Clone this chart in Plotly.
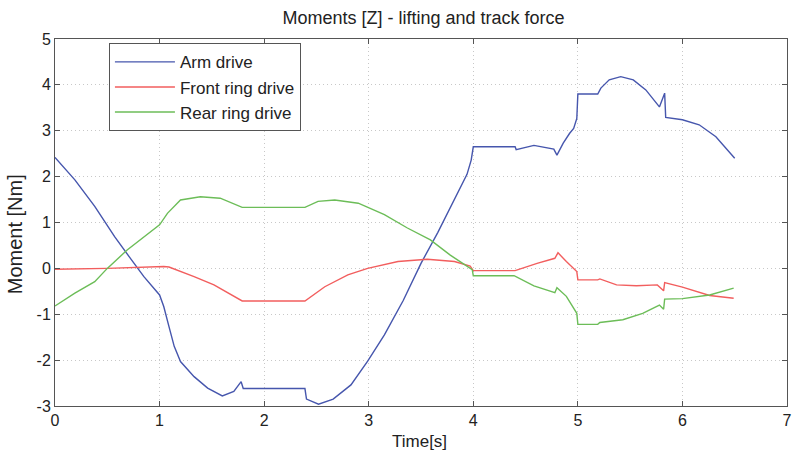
import plotly.graph_objects as go

# Arm drive
arm_t = [0, 0.19, 0.38, 0.57, 0.73, 0.85, 1.0, 1.04, 1.09, 1.14, 1.20, 1.33, 1.46, 1.60, 1.71, 1.78, 1.80,
         2.39, 2.405, 2.52, 2.66, 2.83, 2.99, 3.15, 3.33, 3.50, 3.66, 3.80, 3.94, 3.98, 4.0,
         4.40, 4.41, 4.58, 4.77, 4.80, 4.86, 4.92, 4.96, 4.99, 5.0, 5.19, 5.22, 5.30, 5.41, 5.53, 5.65, 5.78,
         5.83, 5.84, 6.0, 6.16, 6.32, 6.50]
arm_v = [2.42, 1.93, 1.35, 0.69, 0.19, -0.18, -0.58, -0.83, -1.27, -1.70, -2.03, -2.36, -2.61, -2.78, -2.68, -2.47, -2.62,
         -2.62, -2.85, -2.96, -2.85, -2.54, -2.02, -1.45, -0.70, 0.11, 0.78, 1.40, 2.05, 2.36, 2.65,
         2.65, 2.59, 2.68, 2.60, 2.47, 2.73, 2.94, 3.05, 3.27, 3.80, 3.80, 3.93, 4.11, 4.18, 4.11, 3.89, 3.52,
         3.82, 3.29, 3.24, 3.13, 2.87, 2.40]

# Front ring drive
front_t = [0, 0.5, 1.04, 1.09, 1.33, 1.52, 1.79, 2.39, 2.58, 2.80, 2.99, 3.28, 3.56, 3.82, 3.97, 4.0,
           4.40, 4.61, 4.78, 4.81, 4.89, 4.99, 5.0, 5.19, 5.21, 5.37, 5.56, 5.76, 5.82, 5.83, 6.0, 6.26, 6.49]
front_v = [-0.02, 0.0, 0.04, 0.03, -0.18, -0.36, -0.71, -0.71, -0.40, -0.14, 0.0, 0.15, 0.20, 0.15, 0.05, -0.05,
           -0.05, 0.11, 0.22, 0.34, 0.15, -0.07, -0.25, -0.25, -0.23, -0.36, -0.38, -0.36, -0.49, -0.31, -0.41, -0.59, -0.65]

# Rear ring drive
rear_t = [0, 0.19, 0.38, 0.50, 0.69, 0.85, 1.0, 1.075, 1.20, 1.39, 1.58, 1.79, 2.39, 2.515, 2.675, 2.90,
          3.15, 3.37, 3.59, 3.78, 3.99, 4.0, 4.39, 4.58, 4.78, 4.80, 4.89, 4.99, 5.0, 5.19, 5.21, 5.43, 5.62,
          5.78, 5.82, 5.83, 6.0, 6.26, 6.49]
rear_v = [-0.82, -0.54, -0.29, 0.0, 0.40, 0.69, 0.95, 1.20, 1.49, 1.56, 1.53, 1.33, 1.33, 1.46, 1.49, 1.42,
          1.17, 0.88, 0.62, 0.29, -0.03, -0.16, -0.16, -0.38, -0.53, -0.42, -0.61, -0.98, -1.22, -1.22, -1.18, -1.12, -0.98,
          -0.80, -0.89, -0.67, -0.66, -0.58, -0.43]

x_ticks = [0, 1, 2, 3, 4, 5, 6, 7]
x_labels = ["0", "1", "2", "3", "4", "5", "6", "7"]
y_ticks = [-3, -2, -1, 0, 1, 2, 3, 4, 5]
y_labels = ["-3", "-2", "-1", "0", "1", "2", "3", "4", "5"]

series = [
    ("Arm drive", arm_t, arm_v, "#4656ad"),
    ("Front ring drive", front_t, front_v, "#f25e5e"),
    ("Rear ring drive", rear_t, rear_v, "#6cbd58"),
]

FONT = "Liberation Sans, Arial, sans-serif"
TXT = "#222222"

L, R, T, B = 55, 4, 39, 50
W, H = 796, 456
PW, PH = W - L - R, H - T - B

fig = go.Figure()
for i, (name, t, v, c) in enumerate(series):
    fig.add_trace(go.Scatter(x=t, y=v, mode="lines", name=name,
                             line=dict(color=c, width=1.4)))

axis_common = dict(
    showline=True, linecolor="#555555", linewidth=1, mirror="ticks",
    ticks="inside", ticklen=5, tickcolor="#555555",
    showgrid=True, gridcolor="#c8c8c8", griddash="1px,3px", gridwidth=1,
    zeroline=False, ticklabeloverflow="allow",
    tickfont=dict(family=FONT, size=16, color=TXT),
)

fig.update_layout(
    width=W, height=H,
    margin=dict(l=L, r=R, t=T, b=B),
    paper_bgcolor="white", plot_bgcolor="white",
    title=dict(text="Moments [Z] - lifting and track force",
               x=(L + PW / 2) / W, xanchor="center", y=1 - 18 / H, yanchor="middle",
               font=dict(family=FONT, size=18, color=TXT)),
    xaxis=dict(range=[0, 7], tickvals=x_ticks, ticktext=x_labels, **axis_common),
    yaxis=dict(range=[-3, 5], tickvals=y_ticks, ticktext=y_labels, **axis_common),
    annotations=[
        dict(text="Moment [Nm]", textangle=-90, xref="paper", yref="paper",
             x=(15 - L) / PW, y=(H - B - 234) / PH, xanchor="center", yanchor="middle",
             showarrow=False, font=dict(family=FONT, size=20, color=TXT)),
        dict(text="Time[s]", xref="paper", yref="paper",
             x=(422 - L) / PW, y=(H - B - 441) / PH, xanchor="center", yanchor="middle",
             showarrow=False, font=dict(family=FONT, size=17, color=TXT)),
    ],
    legend=dict(x=(109.3 - L) / PW, y=(H - B - 43.3) / PH, xanchor="left", yanchor="top",
                bordercolor="#555555", borderwidth=1, bgcolor="white",
                itemwidth=60,
                font=dict(family=FONT, size=17, color=TXT)),
    showlegend=True,
)

fig.write_html("out.html", config={"displayModeBar": False},
               post_script="document.body.style.margin='0';")
